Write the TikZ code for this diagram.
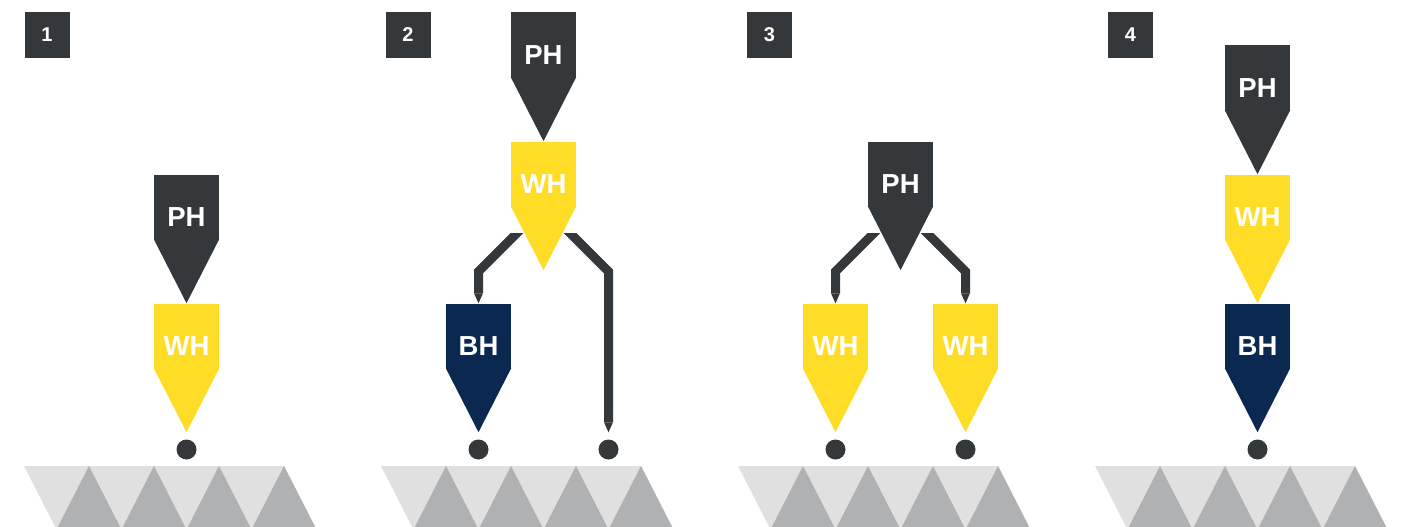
\documentclass[tikz,border=0pt]{standalone}
\usepackage{fontspec}
\setmainfont{Liberation Sans}
\usetikzlibrary{arrows.meta,backgrounds}
\definecolor{phgrey}{HTML}{35383A}
\definecolor{whyellow}{HTML}{FFDD26}
\definecolor{bhnavy}{HTML}{0A2850}
\definecolor{groundlight}{HTML}{E0E0E0}
\definecolor{grounddark}{HTML}{B0B1B2}
\tikzset{
  head/.style={fill=#1, minimum width=65pt, minimum height=65pt, inner sep=0pt,
    text height=51.75pt, text depth=13.25pt, text=white,
    font=\bfseries\fontsize{27.5}{27.5}\selectfont},
  numbox/.style={fill=phgrey, minimum width=45pt, minimum height=46pt, inner sep=0pt,
    text=white, font=\bfseries\fontsize{20}{20}\selectfont},
  contact/.style={circle, fill=phgrey, minimum size=20pt, inner sep=0pt},
  wire/.style={draw=phgrey, line width=9pt, line join=miter,
    -{Triangle[width=9pt,length=10pt,line width=0pt]}},
}

\begin{document}
\begin{tikzpicture}[x=1pt, y=-1pt]
\useasboundingbox (0,0) rectangle (1405,527);

% ground under each step
\foreach \c in {186.5,543.5,900.5,1257.5} {
  \fill[groundlight] (\c-162.5,466) -- (\c+97.5,466) -- (\c+128.7,527) -- (\c-131.3,527) -- cycle;
  \foreach \a in {-97.5,-32.5,32.5,97.5}
    \fill[grounddark] (\c+\a,466) -- (\c+\a+31.2,527) -- (\c+\a-31.2,527) -- cycle;
}

% step numbers
\node[numbox] (n1) at (47,34.7) {1};
\node[numbox] (n2) at (408,34.7) {2};
\node[numbox] (n3) at (769.5,34.7) {3};
\node[numbox] (n4) at (1130.5,34.7) {4};

% heads
\node[head=phgrey] (ph1) at (186.5,207) {PH};
\node[head=whyellow] (wh1) at (186.5,336) {WH};

\node[head=phgrey] (ph2) at (543.5,45) {PH};
\node[head=whyellow] (wh2) at (543.5,174) {WH};
\node[head=bhnavy] (bh2) at (478.5,336) {BH};

\node[head=phgrey] (ph3) at (900.5,174) {PH};
\node[head=whyellow] (wh3a) at (835.5,336) {WH};
\node[head=whyellow] (wh3b) at (965.5,336) {WH};

\node[head=phgrey] (ph4) at (1257.5,78) {PH};
\node[head=whyellow] (wh4) at (1257.5,207) {WH};
\node[head=bhnavy] (bh4) at (1257.5,336) {BH};

\foreach \n/\col in {ph1/phgrey,wh1/whyellow,ph2/phgrey,wh2/whyellow,bh2/bhnavy,
    ph3/phgrey,wh3a/whyellow,wh3b/whyellow,ph4/phgrey,wh4/whyellow,bh4/bhnavy}
  \fill[\col] ([yshift=0.5pt]\n.south west) -- ([yshift=0.5pt]\n.south east)
    -- ([yshift=-63.5pt]\n.south) -- cycle;

% contacts
\node[contact] (d1) at (186.5,449.5) {};
\node[contact] (d2a) at (478.5,449.5) {};
\node[contact] (d2b) at (608.5,449.5) {};
\node[contact] (d3a) at (835.5,449.5) {};
\node[contact] (d3b) at (965.5,449.5) {};
\node[contact] (d4) at (1257.5,449.5) {};

% wires, cut flat below the heads
\begin{scope}[on background layer]
  \clip (0,233.3) rectangle (1405,527);
  \draw[wire] ([xshift=-8.7pt,yshift=-8.5pt]wh2.south) -- ++(-56.3,56.3) -- (bh2.north);
  \draw[wire, shorten >=7pt] ([xshift=8.7pt,yshift=-8.5pt]wh2.south) -- ++(56.3,56.3) -- (d2b.north);
  \draw[wire] ([xshift=-8.7pt,yshift=-8.5pt]ph3.south) -- ++(-56.3,56.3) -- (wh3a.north);
  \draw[wire] ([xshift=8.7pt,yshift=-8.5pt]ph3.south) -- ++(56.3,56.3) -- (wh3b.north);
\end{scope}
\end{tikzpicture}
\end{document}
